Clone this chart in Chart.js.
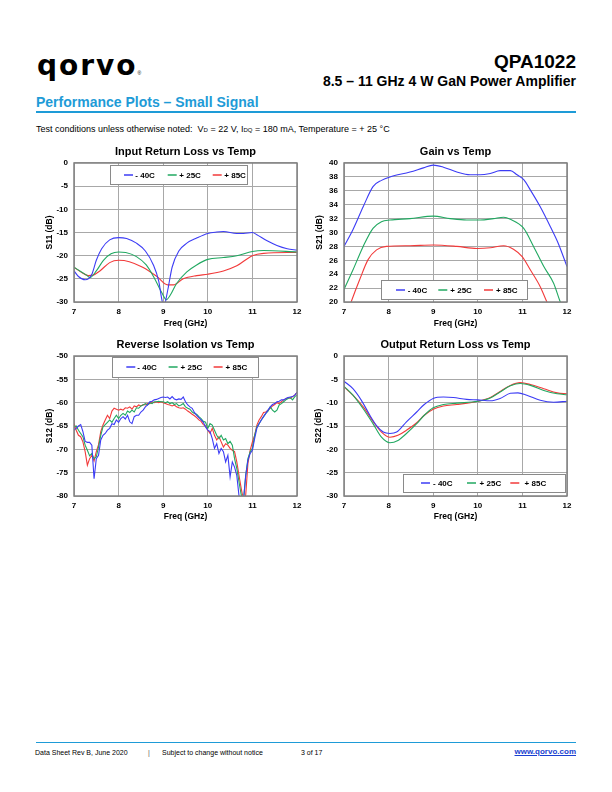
<!DOCTYPE html>
<html>
<head>
<meta charset="utf-8">
<script src="https://cdn.jsdelivr.net/npm/chart.js@4.4.1/dist/chart.umd.min.js"></script>
<style>
  html, body { margin: 0; padding: 0; background: #fff; }
  #page { position: relative; width: 612px; height: 792px; overflow: hidden; font-family: 'Liberation Sans', Arial, sans-serif; color: #000; }
  .abs { position: absolute; white-space: nowrap; }
  canvas { position: absolute; }
</style>
</head>
<body>
<div id="page">
  <div class="abs" style="left:37px; top:52px; font-family:'DejaVu Sans', sans-serif; font-size:28px; line-height:28px; font-weight:bold; letter-spacing:2px;">qorvo<span style="font-size:5px; letter-spacing:0; font-weight:normal; font-family:'Liberation Sans', Arial;">®</span></div>
  <div class="abs" style="right:36px; top:52px; font-size:19px; line-height:19px; font-weight:bold;">QPA1022</div>
  <div class="abs" style="right:36px; top:74px; font-size:14px; line-height:14px; font-weight:bold;">8.5 – 11 GHz 4 W GaN Power Amplifier</div>
  <div class="abs" style="left:36px; top:95px; font-size:14px; line-height:14px; font-weight:bold; color:#1e9bd7;">Performance Plots – Small Signal</div>
  <div class="abs" style="left:36px; top:111px; width:540px; height:1.5px; background:#1e9bd7;"></div>
  <div class="abs" style="left:36px; top:125px; font-size:9px; line-height:9px;">Test conditions unless otherwise noted:&nbsp; V<span style="font-size:6px;">D</span> = 22 V, I<span style="font-size:6px;">DQ</span> = 180 mA, Temperature = + 25 °C</div>

  <canvas id="c1" width="280" height="195" style="left:30px; top:140px;"></canvas>
  <canvas id="c2" width="280" height="195" style="left:310px; top:140px;"></canvas>
  <canvas id="c3" width="280" height="195" style="left:30px; top:335px;"></canvas>
  <canvas id="c4" width="280" height="195" style="left:310px; top:335px;"></canvas>

  <div class="abs" style="left:36px; top:742px; width:540px; height:1px; background:#1e9bd7;"></div>
  <div class="abs" style="left:35px; top:749px; font-size:7px; line-height:7px;">Data Sheet Rev B, June 2020</div>
  <div class="abs" style="left:148px; top:749px; font-size:7px; line-height:7px; color:#555;">|</div>
  <div class="abs" style="left:162px; top:749px; font-size:7px; line-height:7px;">Subject to change without notice</div>
  <div class="abs" style="left:301px; top:749px; font-size:7px; line-height:7px;">3 of 17</div>
  <div class="abs" style="right:36px; top:748px; font-size:8px; line-height:8px; font-weight:bold; color:#1a3fd0; text-decoration:underline;">www.qorvo.com</div>
</div>
<script>
// ---------------- DATA ----------------
const seriesLabels = ['- 40C', '+ 25C', '+ 85C'];
const xTicks = [7, 8, 9, 10, 11, 12];

// Input Return Loss (S11, dB)
const s11FreqM40 = [7, 7.1, 7.25, 7.4, 7.5, 7.62, 7.8, 8.0, 8.18, 8.4, 8.6, 8.78, 8.9, 8.97, 9.02, 9.07, 9.12, 9.2, 9.35, 9.53, 9.75, 10.0, 10.2, 10.35, 10.65, 10.8, 11.0, 11.1, 11.33, 11.55, 11.78, 12];
const s11M40 = [-23.3, -24.5, -25.2, -24, -21, -18.5, -16.6, -16.1, -16.3, -17.3, -19, -22, -25.5, -29.5, -31, -29, -26.5, -22.5, -19, -17.3, -16.2, -15.2, -14.9, -14.8, -15.2, -15.2, -15.0, -15.5, -16.8, -17.8, -18.5, -18.8];
const s11Freq25 = [7, 7.15, 7.28, 7.36, 7.5, 7.66, 7.83, 8.0, 8.16, 8.4, 8.62, 8.8, 8.97, 9.07, 9.16, 9.3, 9.53, 9.75, 10, 10.35, 10.65, 11, 11.25, 12];
const s11P25 = [-22.5, -23.4, -24.2, -24.7, -23.3, -21, -19.6, -19.2, -19.3, -20.2, -22, -24.8, -28, -29.5, -28.5, -26, -23.5, -22, -20.8, -20.4, -20, -19.1, -18.9, -19.2];
const s11Freq85 = [7, 7.15, 7.32, 7.43, 7.58, 7.8, 8.0, 8.24, 8.54, 8.86, 9.1, 9.23, 9.45, 9.75, 10, 10.35, 10.65, 11, 11.25, 12];
const s11P85 = [-22.5, -23.5, -24.3, -24.2, -23.3, -21.5, -21.0, -21.3, -22.5, -24.5, -26.3, -26.3, -25, -24.3, -24, -23.3, -22.2, -20, -19.5, -19.3];

// Gain (S21, dB)
const s21FreqM40 = [7, 7.2, 7.43, 7.65, 7.84, 8.03, 8.48, 8.78, 9.0, 9.23, 9.53, 9.83, 10.05, 10.28, 10.5, 10.73, 10.88, 11.03, 11.18, 11.4, 11.63, 11.8, 12];
const s21M40 = [28, 30.4, 33.7, 36.6, 37.5, 38, 38.7, 39.3, 39.7, 39.4, 38.7, 38.3, 38.3, 38.5, 38.9, 38.9, 38.3, 37.6, 36.1, 33.7, 30.8, 28.5, 25.1];
const s21Freq25 = [7, 7.2, 7.43, 7.65, 7.84, 8.03, 8.48, 9.0, 9.38, 9.75, 10.05, 10.35, 10.58, 10.73, 11.03, 11.25, 11.48, 11.7, 11.85, 12];
const s21P25 = [21.8, 24.6, 28, 30.6, 31.55, 31.8, 32.0, 32.35, 32.0, 31.8, 31.8, 32, 32.2, 31.9, 30.6, 28, 25.1, 22.7, 20, 18];
const s21Freq85 = [7, 7.16, 7.35, 7.54, 7.73, 7.95, 8.48, 9.0, 9.53, 9.98, 10.28, 10.58, 10.8, 11.0, 11.18, 11.4, 11.55, 12];
const s21P85 = [17, 20, 23.2, 26.1, 27.5, 28, 28.1, 28.2, 28.0, 27.7, 27.8, 28.1, 27.6, 26.5, 24.6, 22.2, 20, 14];

// Reverse Isolation (S12, dB)
const s12Freq = [7.00,7.05,7.10,7.15,7.20,7.25,7.30,7.35,7.40,7.45,7.50,7.55,7.60,7.65,7.70,7.75,7.80,7.85,7.90,7.95,
  8.00,8.05,8.10,8.15,8.20,8.25,8.30,8.35,8.40,8.45,8.50,8.55,8.60,8.65,8.70,8.75,8.80,8.85,8.90,8.95,
  9.00,9.05,9.10,9.15,9.20,9.25,9.30,9.35,9.40,9.45,9.50,9.55,9.60,9.65,9.70,9.75,9.80,9.85,9.90,9.95,
  10.00,10.05,10.10,10.15,10.20,10.25,10.30,10.35,10.40,10.45,10.50,10.55,10.60,10.65,10.70,10.75,10.80,10.85,10.90,10.95,
  11.00,11.05,11.10,11.15,11.20,11.25,11.30,11.35,11.40,11.45,11.50,11.55,11.60,11.65,11.70,11.75,11.80,11.85,11.90,11.95,12.00];
const s12M40 = [-65.9,-65.5,-65.0,-64.7,-66.2,-68.3,-68.5,-68.5,-69.1,-76.3,-72.0,-71.3,-68.0,-67.0,-66.6,-65.9,-65.5,-64.5,-64.7,-63.7,
  -64.2,-63.4,-63.0,-63.5,-62.7,-64.1,-64.5,-63.0,-62.7,-62.7,-62.0,-61.6,-60.9,-60.5,-59.8,-59.7,-59.4,-59.3,-59.1,-58.9,
  -58.8,-58.9,-58.8,-59.2,-58.7,-59.2,-59.4,-59.2,-59.3,-58.8,-59.8,-60.5,-60.9,-61.2,-62.1,-62.7,-63.2,-63.7,-64.2,-65.2,
  -65.9,-66.2,-67.7,-69.8,-68.8,-70.9,-69.8,-70.5,-72.7,-71.3,-75.9,-72.7,-73.8,-75.6,-80.0,-81.5,-81.0,-75.6,-72.3,-70.9,
  -70.2,-67.7,-65.5,-64.5,-63.7,-63.0,-62.3,-61.6,-60.9,-60.4,-60.2,-59.8,-59.7,-59.4,-59.4,-59.1,-58.9,-58.8,-58.7,-58.4,-57.8];
const s12P25 = [-65.2,-65.0,-65.9,-66.6,-67.3,-69.1,-70.2,-71.4,-70.9,-72.0,-71.6,-69.5,-67.0,-65.2,-64.7,-64.2,-63.7,-64.2,-63.4,-62.7,
  -63.4,-62.7,-62.3,-62.7,-61.8,-62.1,-61.6,-62.0,-61.1,-61.2,-60.7,-60.5,-60.2,-60.5,-60.0,-60.2,-59.8,-59.8,-59.7,-59.8,
  -59.8,-60.0,-59.8,-60.2,-60.0,-60.4,-60.2,-60.7,-60.5,-60.2,-60.9,-61.2,-61.4,-62.0,-62.3,-62.5,-63.0,-63.4,-64.0,-64.2,
  -65.5,-64.5,-64.8,-65.9,-67.0,-67.7,-67.0,-68.0,-67.7,-68.8,-68.3,-69.1,-72.0,-74.1,-77.0,-79.8,-81.0,-75.6,-72.0,-70.5,
  -69.8,-67.0,-65.2,-64.5,-63.7,-63.0,-62.3,-61.8,-60.9,-61.6,-62.0,-61.6,-60.5,-60.2,-59.8,-59.4,-59.1,-58.9,-59.4,-58.7,-58.4];
const s12P85 = [-64.5,-65.9,-67.0,-67.3,-68.4,-70.5,-73.4,-72.0,-71.3,-72.5,-70.5,-69.0,-66.2,-64.8,-63.7,-62.7,-63.4,-61.8,-61.2,-61.4,
  -61.6,-61.4,-61.6,-61.1,-61.2,-60.9,-61.4,-60.7,-60.9,-60.5,-60.7,-60.4,-60.5,-60.2,-60.2,-59.8,-60.0,-59.8,-60.0,-59.8,
  -60.0,-60.2,-60.4,-60.5,-60.7,-60.5,-60.9,-61.1,-61.2,-61.1,-61.4,-61.8,-62.1,-62.5,-62.8,-63.2,-63.7,-64.0,-64.7,-65.0,
  -65.9,-66.6,-65.5,-67.0,-68.0,-67.3,-68.4,-69.5,-68.8,-69.1,-69.8,-70.2,-70.5,-72.7,-75.6,-78.4,-80.9,-79.8,-73.0,-70.2,
  -68.4,-67.0,-64.8,-63.7,-63.0,-62.1,-62.0,-61.6,-61.2,-60.7,-60.4,-60.0,-60.2,-59.8,-59.4,-59.2,-58.9,-59.1,-58.7,-58.4,-57.8];

// Output Return Loss (S22, dB)
const s22FreqM40 = [7, 7.2, 7.39, 7.58, 7.73, 7.88, 8.03, 8.18, 8.4, 8.63, 8.8, 9.0, 9.23, 9.45, 9.75, 10.0, 10.28, 10.5, 10.73, 10.9, 11.1, 11.4, 11.7, 12];
const s22M40 = [-5.4, -7, -9.5, -12.7, -14.9, -16.3, -16.6, -16.3, -14.1, -12, -10.4, -9.1, -8.8, -8.9, -9.3, -9.4, -9.6, -9.1, -8.0, -7.9, -8.4, -9.5, -9.9, -9.7];
const s22Freq = [7, 7.2, 7.43, 7.65, 7.84, 8.03, 8.21, 8.4, 8.63, 8.8, 9.0, 9.23, 9.53, 10.0, 10.28, 10.5, 10.73, 10.95, 11.18, 11.48, 11.78, 12];
const s22P25 = [-6.5, -8.4, -11.3, -14.5, -17.4, -18.6, -18.1, -16.6, -14.5, -12.7, -11.1, -10.4, -10.1, -9.7, -9.0, -7.7, -6.4, -5.9, -6.3, -7.4, -8.1, -8.3];
const s22P85 = [-6.6, -8.4, -10.9, -14, -16.3, -17.4, -17, -15.9, -14.3, -12.7, -11.4, -10.7, -10.4, -9.7, -8.9, -7.6, -6.3, -5.7, -6.1, -7, -7.9, -8.1];

// ---------------- STYLE ----------------
const COLORS = ['#3c3cf5', '#21a861', '#f23a3a'];
const FONT = "'Liberation Sans', Arial, sans-serif";
Chart.defaults.font.family = FONT;
Chart.defaults.color = '#000';

const frameLegendPlugin = {
  id: 'frameLegend',
  afterDraw(chart, args, opts) {
    const ctx = chart.ctx, a = chart.chartArea;
    ctx.save();
    ctx.strokeStyle = '#808080';
    ctx.lineWidth = 1.5;
    ctx.strokeRect(a.left, a.top, a.right - a.left, a.bottom - a.top);
    if (opts && opts.box) {
      const b = opts.box;
      const bx = a.left + b[0], by = a.top + b[1];
      ctx.fillStyle = '#fff';
      ctx.fillRect(bx, by, b[2], b[3]);
      ctx.strokeStyle = '#8a8a8a';
      ctx.lineWidth = 1;
      ctx.strokeRect(Math.round(bx) + 0.5, Math.round(by) + 0.5, b[2], b[3]);
      ctx.font = 'bold 8px ' + FONT;
      ctx.textBaseline = 'middle';
      ctx.textAlign = 'left';
      const cy = Math.round(by + b[3] / 2);
      chart.data.datasets.forEach((ds, i) => {
        ctx.strokeStyle = COLORS[i];
        ctx.lineWidth = 1.5;
        ctx.beginPath();
        ctx.moveTo(bx + opts.lineX[i], cy);
        ctx.lineTo(bx + opts.lineX[i] + 9, cy);
        ctx.stroke();
        ctx.fillStyle = '#000';
        ctx.fillText(ds.label, bx + opts.textX[i] + 1, cy + 0.5);
      });
    }
    ctx.restore();
  }
};

function makeChart(id, cfg) {
  const datasets = cfg.series.map((s, i) => ({
    label: seriesLabels[i],
    data: s.x.map((x, k) => ({ x: x, y: s.y[k] })),
    borderColor: COLORS[i],
    backgroundColor: COLORS[i],
    borderWidth: 1.1,
    pointRadius: 0,
    fill: false,
    tension: cfg.smooth ? 0.4 : 0,
    cubicInterpolationMode: cfg.smooth ? 'monotone' : 'default'
  }));
  return new Chart(document.getElementById(id), {
    type: 'line',
    data: { datasets: datasets },
    options: {
      responsive: false,
      animation: false,
      devicePixelRatio: 1,
      layout: { padding: { top: cfg.padTop, right: cfg.padRight, left: 0, bottom: 0 } },
      plugins: {
        legend: { display: false },
        tooltip: { enabled: false },
        title: {
          display: true, text: cfg.title, fullSize: false, color: '#000',
          font: { size: 11, weight: 'bold', family: FONT },
          padding: { top: 0, bottom: cfg.titleGap }
        },
        frameLegend: cfg.legend
      },
      scales: {
        x: {
          type: 'linear', min: 7, max: 12,
          afterBuildTicks: (s) => { s.ticks = xTicks.map(v => ({ value: v })); },
          ticks: { font: { size: 8, weight: 'bold' }, color: '#000', padding: 5, maxRotation: 0 },
          grid: { color: '#a8a8a8', drawTicks: false, lineWidth: 1 },
          border: { display: false },
          title: { display: true, text: 'Freq (GHz)', color: '#000', font: { size: 8.5, weight: 'bold' }, padding: { top: 0, bottom: cfg.xTitlePad } },
          afterFit: (s) => { s.height = cfg.xh; }
        },
        y: {
          type: 'linear', min: cfg.ymin, max: cfg.ymax,
          afterBuildTicks: (s) => { s.ticks = cfg.yTicks.map(v => ({ value: v })); },
          ticks: { font: { size: 8, weight: 'bold' }, color: '#000', padding: 6 },
          grid: { color: '#a8a8a8', drawTicks: false, lineWidth: 1 },
          border: { display: false },
          title: { display: true, text: cfg.ytitle, color: '#000', font: { size: 8.5, weight: 'bold' }, padding: { top: cfg.yTitlePad, bottom: 0 } },
          afterFit: (s) => { s.width = cfg.yw; }
        }
      }
    },
    plugins: [frameLegendPlugin]
  });
}

const s11Ticks = [-30, -25, -20, -15, -10, -5, 0];
const s21Ticks = [20, 22, 24, 26, 28, 30, 32, 34, 36, 38, 40];
const s12Ticks = [-80, -75, -70, -65, -60, -55, -50];
const s22Ticks = [-30, -25, -20, -15, -10, -5, 0];

makeChart('c1', {
  title: 'Input Return Loss vs Temp', ytitle: 'S11 (dB)', ymin: -30, ymax: 0, yTicks: s11Ticks, smooth: true,
  series: [{ x: s11FreqM40, y: s11M40 }, { x: s11Freq25, y: s11P25 }, { x: s11Freq85, y: s11P85 }],
  padTop: 5.7, padRight: 13, titleGap: 4.1, yw: 44, xh: 33, yTitlePad: 14.9, xTitlePad: 6,
  legend: { box: [36, 2, 137, 19], lineX: [14, 57.7, 102.7], textX: [24.3, 68.3, 113.3] }
});
makeChart('c2', {
  title: 'Gain vs Temp', ytitle: 'S21 (dB)', ymin: 20, ymax: 40, yTicks: s21Ticks, smooth: true,
  series: [{ x: s21FreqM40, y: s21M40 }, { x: s21Freq25, y: s21P25 }, { x: s21Freq85, y: s21P85 }],
  padTop: 5.7, padRight: 23, titleGap: 4.1, yw: 34, xh: 33, yTitlePad: 4.9, xTitlePad: 6,
  legend: { box: [37, 117, 146, 19], lineX: [15, 57.3, 103], textX: [25.7, 68.3, 114] }
});
makeChart('c3', {
  title: 'Reverse Isolation vs Temp', ytitle: 'S12 (dB)', ymin: -80, ymax: -50, yTicks: s12Ticks, smooth: false,
  series: [{ x: s12Freq, y: s12M40 }, { x: s12Freq, y: s12P25 }, { x: s12Freq, y: s12P85 }],
  padTop: 3.4, padRight: 13, titleGap: 4.4, yw: 44, xh: 34, yTitlePad: 14.9, xTitlePad: 8,
  legend: { box: [38, 1, 146, 20], lineX: [14.3, 56.6, 101.6], textX: [24.3, 67.6, 112.6] }
});
makeChart('c4', {
  title: 'Output Return Loss vs Temp', ytitle: 'S22 (dB)', ymin: -30, ymax: 0, yTicks: s22Ticks, smooth: true,
  series: [{ x: s22FreqM40, y: s22M40 }, { x: s22Freq, y: s22P25 }, { x: s22Freq, y: s22P85 }],
  padTop: 3.4, padRight: 23, titleGap: 4.4, yw: 34, xh: 34, yTitlePad: 3.9, xTitlePad: 8,
  legend: { box: [59, 118, 162, 18], lineX: [18, 64, 107.3], textX: [29, 75.6, 120.6] }
});
</script>
</body>
</html>
